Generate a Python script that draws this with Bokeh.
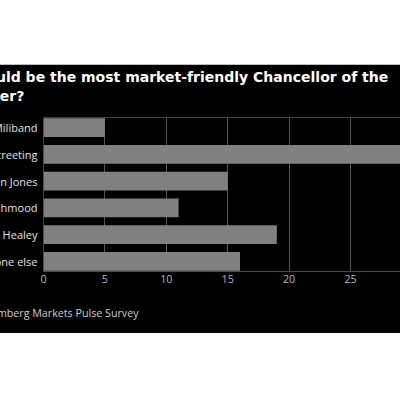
from bokeh.plotting import figure
from bokeh.models import Range1d, FixedTicker, ColumnDataSource, Title
from bokeh.embed import file_html
from bokeh.resources import INLINE

names = ["Ed Miliband", "Wes Streeting", "Darren Jones", "Shabana Mahmood", "John Healey", "Someone else"]
values = [5, 31, 15, 11, 19, 16]
x_ticks = [0, 5, 10, 15, 20, 25]
title_lines = ["Who would be the most market-friendly Chancellor of the", "Exchequer?"]
source_text = "Source: Bloomberg Markets Pulse Survey"

pos = list(range(len(names)))[::-1]
src = ColumnDataSource(dict(y=pos, v=values, name=names))

FONT = "Open Sans"

p = figure(width=488, height=269, x_range=Range1d(0, 29.07), y_range=Range1d(-0.38, 5.38),
           title=None, output_backend="svg", toolbar_location=None, margin=(64, -8, 0, -88),
           min_border_left=131, min_border_right=0, min_border_top=53, min_border_bottom=62,
           background_fill_color="black", border_fill_color="black", outline_line_color=None)

p.hbar(y="y", right="v", left=0, height=0.7, source=src, fill_color="#808080", line_color=None)

# category axis (labels run off the left edge of the page, as in the reference crop)
p.yaxis.ticker = FixedTicker(ticks=pos)
p.yaxis.major_label_overrides = {y: n for y, n in zip(pos, names)}
p.yaxis.axis_line_color = None
p.yaxis.major_tick_line_color = None
p.yaxis.minor_tick_line_color = None
p.yaxis.major_tick_out = 0
p.yaxis.major_tick_in = 0
p.yaxis.major_label_standoff = 6
p.yaxis.major_label_text_color = "#e0e0e0"
p.yaxis.major_label_text_font = FONT
p.yaxis.major_label_text_font_size = "11px"
p.ygrid.visible = False

p.xaxis.ticker = FixedTicker(ticks=x_ticks)
p.xaxis.major_tick_line_color = None
p.xaxis.minor_tick_line_color = None
p.xaxis.major_tick_out = 0
p.xaxis.major_tick_in = 0
p.xaxis.axis_line_color = "#4a4a4a"
p.xaxis.major_label_text_color = "#b8b8b8"
p.xaxis.major_label_text_font = FONT
p.xaxis.major_label_text_font_size = "10.7px"
p.xaxis.major_label_standoff = 3
p.xgrid.grid_line_color = "#555555"

# thin spacer between the bars and the title, then the two-line title
p.add_layout(Title(text=" ", text_font_size="1px", standoff=9), "above")
p.add_layout(Title(text="\n".join(title_lines), align="left", offset=-110, text_font="DejaVu Sans",
                   text_font_size="14px", text_font_style="bold", text_color="white",
                   text_line_height=1.2, standoff=2), "above")

p.add_layout(Title(text=" \n" + source_text, align="left", offset=-109, text_font=FONT,
                   text_font_size="10.7px", text_font_style="normal", text_color="#cccccc",
                   text_line_height=1.2, standoff=4), "below")

open("out.html", "w").write(file_html(p, INLINE))
